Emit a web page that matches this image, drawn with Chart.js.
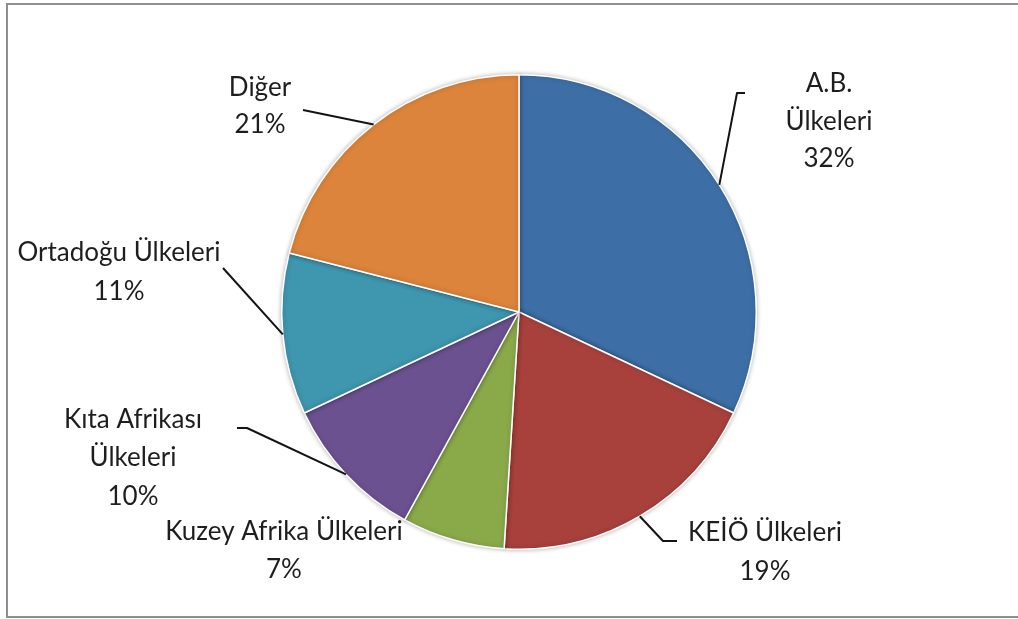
<!DOCTYPE html>
<html>
<head>
<meta charset="utf-8">
<script src="https://cdn.jsdelivr.net/npm/chart.js@4.4.1/dist/chart.umd.min.js"></script>
<style>
  html,body{margin:0;padding:0;background:#fff;overflow:hidden}
  #wrap{position:relative;width:1018px;height:619px}
  #frame{position:absolute;left:6px;top:3px;width:1020px;height:611px;border:2px solid #8e8e8e;border-right:none;pointer-events:none}
  canvas{position:absolute;left:0;top:0}
</style>
</head>
<body>
<div id="wrap">
  <canvas id="pie" width="1018" height="619"></canvas>
  <div id="frame"></div>
</div>
<script>
// dilim adları, payları ve renkleri (saat 12'den saat yönünde)
const categories=['A.B. Ülkeleri','KEİÖ Ülkeleri','Kuzey Afrika Ülkeleri','Kıta Afrikası Ülkeleri','Ortadoğu Ülkeleri','Diğer'];
const shares=[32,19,7,10,11,21];
const colors=['#3d6fa6','#a8413c','#8aaa4a','#6b5190','#3e96af','#dc843b'];

// etiket satırları ve yerleşimi (yazı merkezi, bağlantı çizgisinin kırılma noktaları)
const LBL=[
  {lines:['A.B.','Ülkeleri'],x:829,ys:[84,122,159],pts:[[737,93],[745,93]]},
  {lines:['KEİÖ Ülkeleri'],x:765,ys:[533,572],pts:[[663,541],[677,541]]},
  {lines:['Kuzey Afrika Ülkeleri'],x:284,ys:[532,570],pts:null},
  {lines:['Kıta Afrikası','Ülkeleri'],x:133,ys:[420,458,497],pts:[[247,428],[237,428]]},
  {lines:['Ortadoğu Ülkeleri'],x:119,ys:[253,292],pts:[[223,268]]},
  {lines:['Diğer'],x:260,ys:[88,125],pts:[[303,110]]},
];
const FONT='26px Lato';

const pieShadow={
  id:'pieShadow',
  beforeDatasetsDraw(chart){
    const c=chart.ctx;c.save();
    c.shadowColor='rgba(0,0,0,0.28)';c.shadowBlur=5;
  },
  afterDatasetsDraw(chart){chart.ctx.restore();}
};

const leaderLabels={
  id:'leaderLabels',
  afterDraw(chart){
    const c=chart.ctx;
    const arcs=chart.getDatasetMeta(0).data;
    c.save();
    c.strokeStyle='#141414';c.lineWidth=2;c.lineJoin='round';
    arcs.forEach((a,i)=>{
      const L=LBL[i];
      if(L.pts){
        const mid=(a.startAngle+a.endAngle)/2;
        c.beginPath();
        c.moveTo(a.x+Math.cos(mid)*a.outerRadius,a.y+Math.sin(mid)*a.outerRadius);
        L.pts.forEach(p=>c.lineTo(p[0],p[1]));
        c.stroke();
      }
      c.fillStyle='#1e1e1e';c.font=FONT;c.textAlign='center';c.textBaseline='middle';
      const txt=L.lines.concat([shares[i]+'%']);
      txt.forEach((t,k)=>c.fillText(t,L.x,L.ys[k]));
    });
    c.restore();
  }
};

new Chart(document.getElementById('pie'),{
  type:'pie',
  data:{labels:categories,datasets:[{data:shares,backgroundColor:colors,borderColor:'#ffffff',borderWidth:1.5}]},
  options:{
    responsive:false,animation:false,
    layout:{padding:{left:281,right:261,top:74,bottom:69}},
    plugins:{legend:{display:false},tooltip:{enabled:false}}
  },
  plugins:[pieShadow,leaderLabels]
});
</script>
</body>
</html>
